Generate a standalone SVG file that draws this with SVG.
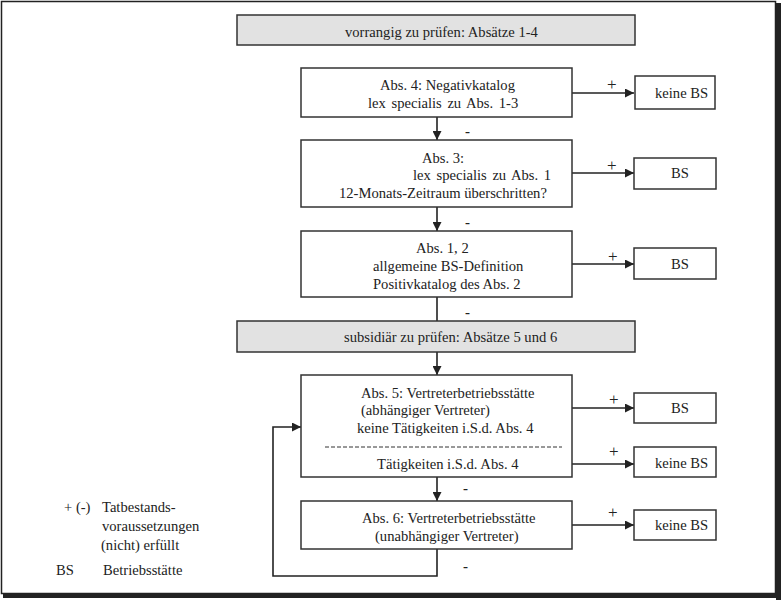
<svg xmlns="http://www.w3.org/2000/svg" width="781" height="600" viewBox="0 0 781 600">
<defs>
<style>
text{font-family:"Liberation Serif","Times New Roman",serif;font-size:14.6px;fill:#222}
.pl{font-size:17px}
.mi{font-size:15px;font-weight:bold}
.box{fill:#fff;stroke:#333;stroke-width:1.5}
.gray{fill:#e2e2e2;stroke:#333;stroke-width:1.5}
.con{fill:none;stroke:#222;stroke-width:1.6}
.dash{stroke:#333;stroke-width:1;stroke-dasharray:4,2}
</style>
<marker id="ah" viewBox="0 0 10 10" refX="10" refY="5" markerWidth="10" markerHeight="9" markerUnits="userSpaceOnUse" orient="auto">
<path d="M0,0 L10,5 L0,10 z" fill="#222"/>
</marker>
</defs>
<rect x="0" y="0" width="781" height="600" fill="#fff"/>
<g id="frame">
<rect x="1.5" y="1.5" width="774" height="592" fill="none" stroke="#222" stroke-width="1.5"/>
<rect x="776" y="3" width="5" height="597" fill="#222"/>
<rect x="3" y="594" width="778" height="4" fill="#222"/>
</g>
<g id="connectors">
<path class="con" d="M437,117 V140" marker-end="url(#ah)"/>
<path class="con" d="M437,207 V231" marker-end="url(#ah)"/>
<path class="con" d="M437,297 V321"/>
<path class="con" d="M437,352 V375" marker-end="url(#ah)"/>
<path class="con" d="M437,477 V501" marker-end="url(#ah)"/>
<path class="con" d="M437,549 V576 H273 V427 H301" marker-end="url(#ah)"/>
<path class="con" d="M572,93 H634" marker-end="url(#ah)"/>
<path class="con" d="M572,173 H634" marker-end="url(#ah)"/>
<path class="con" d="M572,264 H634" marker-end="url(#ah)"/>
<path class="con" d="M572,408 H634" marker-end="url(#ah)"/>
<path class="con" d="M572,464 H634" marker-end="url(#ah)"/>
<path class="con" d="M572,525 H634" marker-end="url(#ah)"/>
<text class="pl" x="607" y="90">+</text>
<text class="pl" x="607" y="171">+</text>
<text class="pl" x="608" y="262">+</text>
<text class="pl" x="609" y="405">+</text>
<text class="pl" x="609" y="457">+</text>
<text class="pl" x="608" y="518">+</text>
<text class="mi" x="465" y="136">-</text>
<text class="mi" x="465" y="227">-</text>
<text class="mi" x="465" y="317">-</text>
<text class="mi" x="463" y="493">-</text>
<text class="mi" x="463" y="571">-</text>
</g>
<g id="head1">
<rect class="gray" x="237" y="15" width="398" height="30"/>
<text x="345" y="36.5">vorrangig zu prüfen: Absätze 1-4</text>
</g>
<g id="abs4">
<rect class="box" x="301" y="68" width="271" height="49"/>
<text x="380" y="90">Abs. 4: Negativkatalog</text>
<text x="368" y="108" word-spacing="2">lex specialis zu Abs. 1-3</text>
</g>
<g id="res1">
<rect class="box" x="635" y="76" width="80" height="33"/>
<text x="655" y="98">keine BS</text>
</g>
<g id="abs3">
<rect class="box" x="301" y="140" width="271" height="67"/>
<text x="422" y="163">Abs. 3:</text>
<text x="413" y="180" word-spacing="2">lex specialis zu Abs. 1</text>
<text x="339" y="198">12-Monats-Zeitraum überschritten?</text>
</g>
<g id="res2">
<rect class="box" x="634" y="158" width="82" height="31"/>
<text x="671" y="178">BS</text>
</g>
<g id="abs12">
<rect class="box" x="301" y="231" width="271" height="66"/>
<text x="416" y="253">Abs. 1, 2</text>
<text x="373" y="271">allgemeine BS-Definition</text>
<text x="373" y="289">Positivkatalog des Abs. 2</text>
</g>
<g id="res3">
<rect class="box" x="634" y="248" width="82" height="31"/>
<text x="671" y="269">BS</text>
</g>
<g id="head2">
<rect class="gray" x="237" y="321" width="398" height="31"/>
<text x="344" y="342">subsidiär zu prüfen: Absätze 5 und 6</text>
</g>
<g id="abs5">
<rect class="box" x="301" y="375" width="271" height="102"/>
<text x="361" y="398">Abs. 5: Vertreterbetriebsstätte</text>
<text x="361" y="415">(abhängiger Vertreter)</text>
<text x="357" y="433">keine Tätigkeiten i.S.d. Abs. 4</text>
<line class="dash" x1="325" y1="447" x2="562" y2="447"/>
<text x="377" y="469">Tätigkeiten i.S.d. Abs. 4</text>
</g>
<g id="res4">
<rect class="box" x="634" y="393" width="82" height="30"/>
<text x="671" y="413">BS</text>
</g>
<g id="res5">
<rect class="box" x="634" y="447" width="82" height="30"/>
<text x="655" y="468">keine BS</text>
</g>
<g id="abs6">
<rect class="box" x="301" y="501" width="271" height="48"/>
<text x="362" y="523">Abs. 6: Vertreterbetriebsstätte</text>
<text x="375" y="541">(unabhängiger Vertreter)</text>
</g>
<g id="res6">
<rect class="box" x="634" y="510" width="82" height="30"/>
<text x="655" y="530">keine BS</text>
</g>
<g id="legend">
<text x="64" y="512">+ (-)</text>
<text x="102" y="512">Tatbestands-</text>
<text x="102" y="531">voraussetzungen</text>
<text x="101" y="550">(nicht) erfüllt</text>
<text x="56" y="575">BS</text>
<text x="103" y="575">Betriebsstätte</text>
</g>
</svg>
